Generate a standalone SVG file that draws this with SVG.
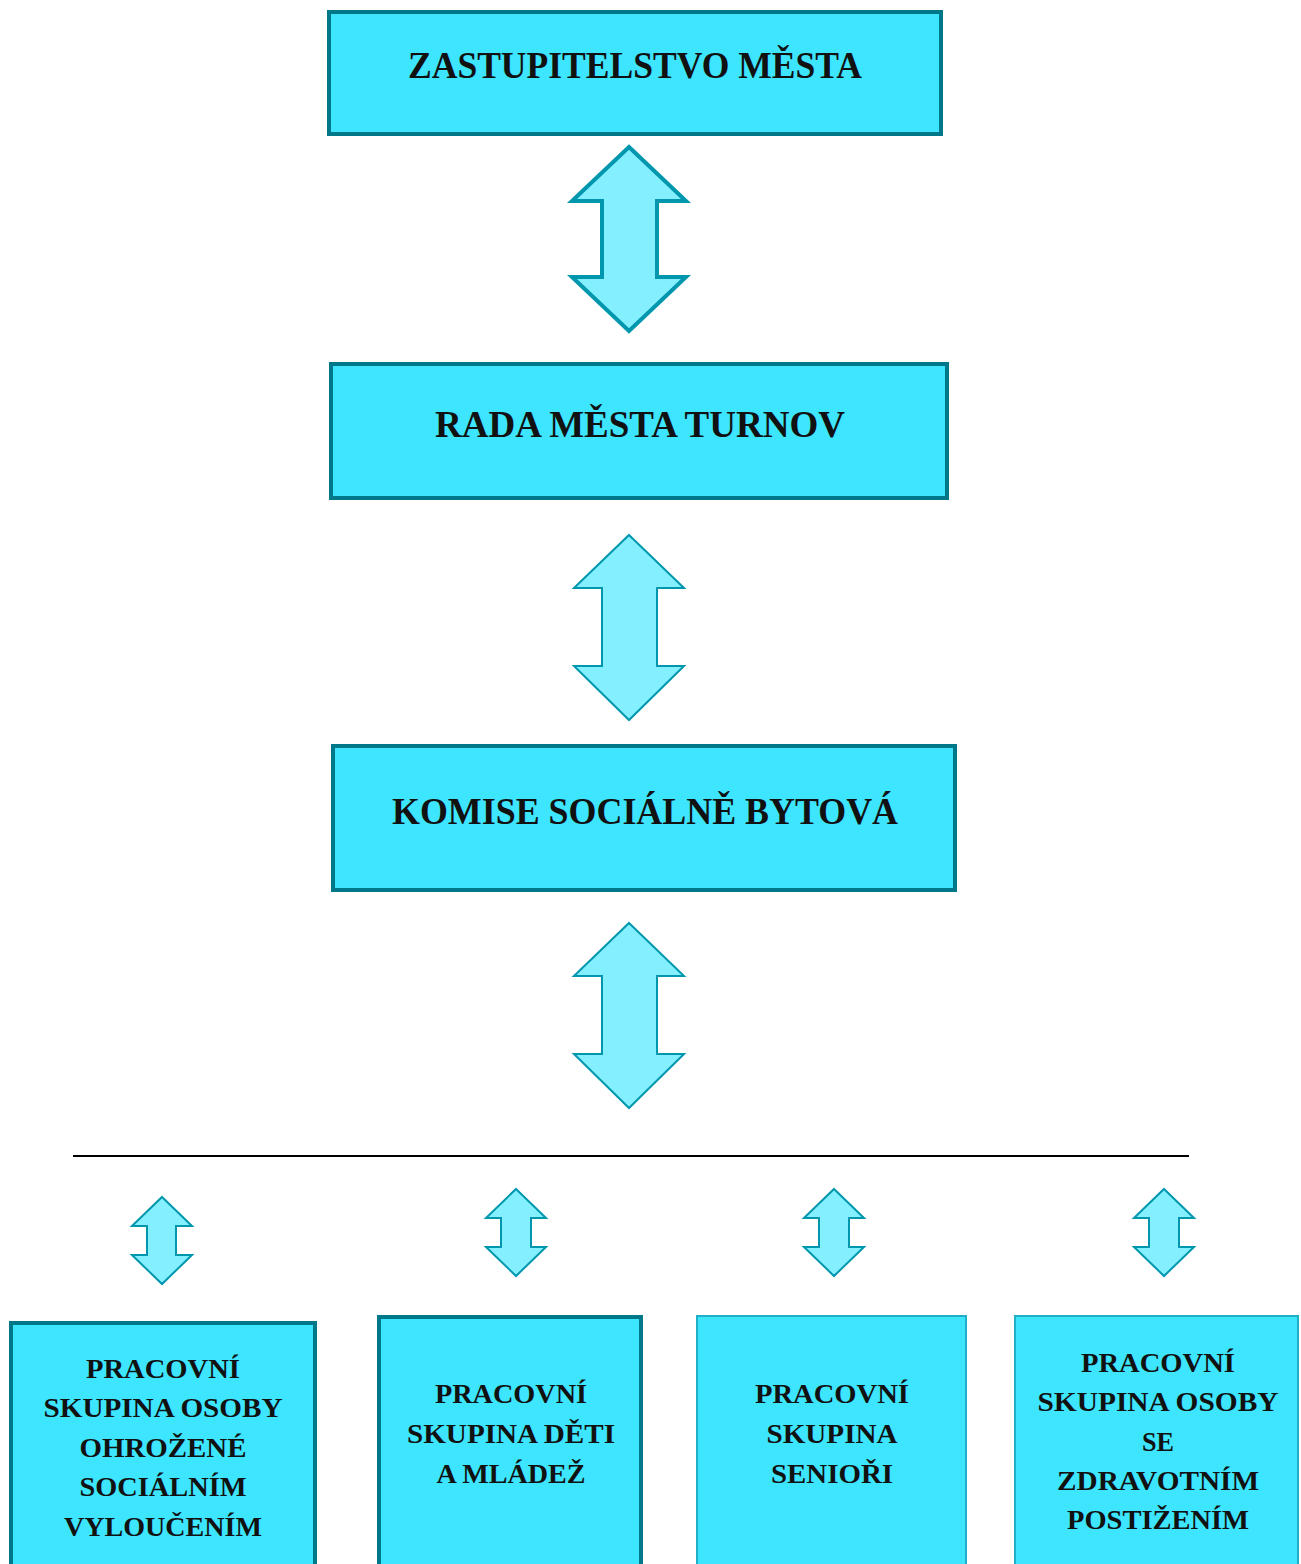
<svg xmlns="http://www.w3.org/2000/svg" width="1301" height="1564" viewBox="0 0 1301 1564">
<style>
.box{fill:#3DE5FF;stroke:#00788A;stroke-width:4}
.box2{fill:#3DE5FF;stroke:#1FAFC6;stroke-width:2}
.arr{fill:#84F0FF;stroke:#0097AE;stroke-width:2;stroke-linejoin:miter}
.big{font-family:"Liberation Serif",serif;font-weight:bold;font-size:38px;fill:#111;text-anchor:middle}
.sm{font-family:"Liberation Serif",serif;font-weight:bold;font-size:27px;fill:#111;text-anchor:middle}
</style>
<rect width="1301" height="1564" fill="#fff"/>
<g id="connectors">
<path class="arr" style="stroke-width:4" d="M629,147 L686,201 L657,201 L657,277 L686,277 L629,331 L572,277 L602,277 L602,201 L572,201 Z"/>
<path class="arr" d="M629,535 L684,588 L657,588 L657,666 L684,666 L629,720 L574,666 L602,666 L602,588 L574,588 Z"/>
<path class="arr" d="M629,923 L684,976 L657,976 L657,1054 L684,1054 L629,1108 L574,1054 L602,1054 L602,976 L574,976 Z"/>
<line x1="73" y1="1156" x2="1189" y2="1156" stroke="#000" stroke-width="2"/>
<path class="arr" d="M162,1197 L192,1226 L176,1226 L176,1255 L192,1255 L162,1284 L132,1255 L147,1255 L147,1226 L132,1226 Z"/>
<path class="arr" d="M516,1189 L546,1218 L531,1218 L531,1247 L546,1247 L516,1276 L486,1247 L501,1247 L501,1218 L486,1218 Z"/>
<path class="arr" d="M834,1189 L864,1218 L849,1218 L849,1247 L864,1247 L834,1276 L804,1247 L819,1247 L819,1218 L804,1218 Z"/>
<path class="arr" d="M1164,1189 L1194,1218 L1179,1218 L1179,1247 L1194,1247 L1164,1276 L1134,1247 L1149,1247 L1149,1218 L1134,1218 Z"/>
</g>
<g id="n1">
<rect class="box" x="329" y="12" width="612" height="122"/>
<text class="big" x="635" y="78" textLength="454" lengthAdjust="spacingAndGlyphs">ZASTUPITELSTVO MĚSTA</text>
</g>
<g id="n2">
<rect class="box" x="331" y="364" width="616" height="134"/>
<text class="big" x="640" y="437" textLength="410" lengthAdjust="spacingAndGlyphs">RADA MĚSTA TURNOV</text>
</g>
<g id="n3">
<rect class="box" x="333" y="746" width="622" height="144"/>
<text class="big" x="645" y="824" textLength="506" lengthAdjust="spacingAndGlyphs">KOMISE SOCIÁLNĚ BYTOVÁ</text>
</g>
<g id="n4">
<rect class="box" x="11" y="1323" width="304" height="260"/>
<text class="sm" x="163" y="1378" textLength="154" lengthAdjust="spacingAndGlyphs">PRACOVNÍ</text>
<text class="sm" x="163" y="1417" textLength="239" lengthAdjust="spacingAndGlyphs">SKUPINA OSOBY</text>
<text class="sm" x="163" y="1457" textLength="167" lengthAdjust="spacingAndGlyphs">OHROŽENÉ</text>
<text class="sm" x="163" y="1496" textLength="167" lengthAdjust="spacingAndGlyphs">SOCIÁLNÍM</text>
<text class="sm" x="163" y="1536" textLength="198" lengthAdjust="spacingAndGlyphs">VYLOUČENÍM</text>
</g>
<g id="n5">
<rect class="box" x="379" y="1317" width="262" height="266"/>
<text class="sm" x="511" y="1403" textLength="152" lengthAdjust="spacingAndGlyphs">PRACOVNÍ</text>
<text class="sm" x="511" y="1443" textLength="208" lengthAdjust="spacingAndGlyphs">SKUPINA DĚTI</text>
<text class="sm" x="511" y="1483" textLength="149" lengthAdjust="spacingAndGlyphs">A MLÁDEŽ</text>
</g>
<g id="n6">
<rect class="box2" x="697" y="1316" width="269" height="267"/>
<text class="sm" x="832" y="1403" textLength="154" lengthAdjust="spacingAndGlyphs">PRACOVNÍ</text>
<text class="sm" x="832" y="1443" textLength="131" lengthAdjust="spacingAndGlyphs">SKUPINA</text>
<text class="sm" x="832" y="1483" textLength="122" lengthAdjust="spacingAndGlyphs">SENIOŘI</text>
</g>
<g id="n7">
<rect class="box2" x="1015" y="1316" width="283" height="267"/>
<text class="sm" x="1158" y="1372" textLength="154" lengthAdjust="spacingAndGlyphs">PRACOVNÍ</text>
<text class="sm" x="1158" y="1411" textLength="241" lengthAdjust="spacingAndGlyphs">SKUPINA OSOBY</text>
<text class="sm" x="1158" y="1451" textLength="32" lengthAdjust="spacingAndGlyphs">SE</text>
<text class="sm" x="1158" y="1490" textLength="202" lengthAdjust="spacingAndGlyphs">ZDRAVOTNÍM</text>
<text class="sm" x="1158" y="1529" textLength="182" lengthAdjust="spacingAndGlyphs">POSTIŽENÍM</text>
</g>
</svg>
